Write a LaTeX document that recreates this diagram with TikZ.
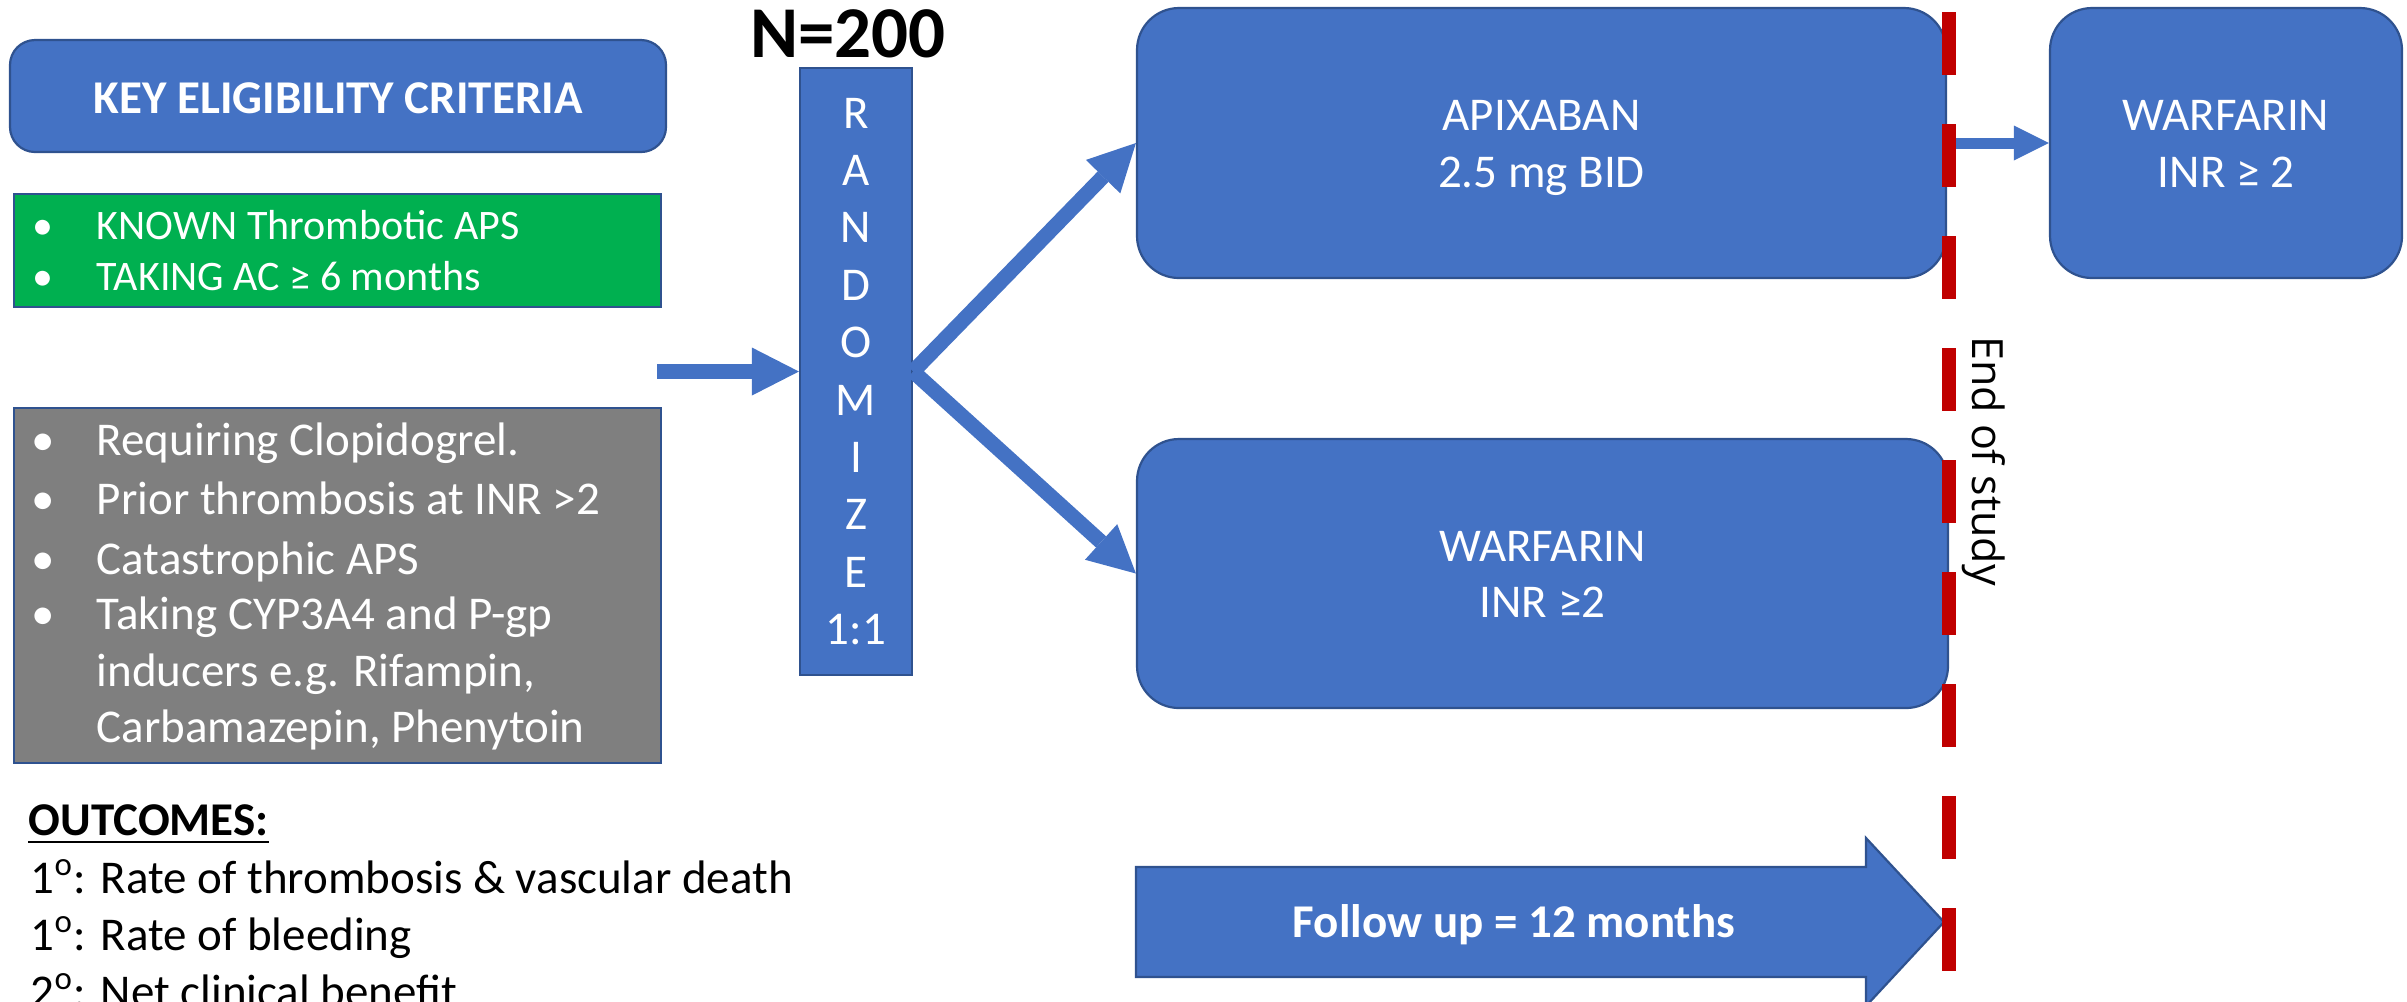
\documentclass[tikz,border=0pt]{standalone}
\usepackage{fontspec}
\setmainfont{Carlito}
\newfontfamily\eosfont{Open Sans}
\usetikzlibrary{arrows.meta}
\definecolor{pblue}{HTML}{4472C4}
\definecolor{pedge}{HTML}{2F528F}
\definecolor{pgreen}{HTML}{00B050}
\definecolor{pgray}{HTML}{7F7F7F}
\definecolor{pred}{HTML}{C00000}
\begin{document}
\begin{tikzpicture}[x=0.25pt,y=-0.25pt,
  box/.style={rectangle, draw=pedge, line width=0.55pt, inner sep=0pt},
  rbox/.style={box, fill=pblue, rounded corners=10.5pt},
  wtext/.style={text=white, inner sep=0pt, font=\fontsize{11.75pt}{14.35pt}\selectfont},
  gtext/.style={text=white, inner sep=0pt, font=\fontsize{10.5pt}{12.75pt}\selectfont},
  btext/.style={text=black, inner sep=0pt, font=\fontsize{11.75pt}{14.35pt}\selectfont},
  conn/.style={draw=pblue, line width=3.75pt, -{Triangle[length=11.75pt, width=12pt, line width=0pt]}},
  sconn/.style={draw=pblue, line width=2.75pt, -{Triangle[length=8.75pt, width=8.75pt, line width=0pt]}},
  eosline/.style={draw=pred, line width=3.5pt, dash pattern=on 15.75pt off 12.25pt}
]
\useasboundingbox (0,0) rectangle (2407,1001);

% left column
\node[box, fill=pblue, rounded corners=6.25pt, minimum width=164pt, minimum height=28pt] (key) at (338,96) {};
\node[wtext, font=\bfseries\fontsize{11.75pt}{14.35pt}\selectfont, anchor=base] (keyt) at (338,113) {KEY ELIGIBILITY CRITERIA};

\node[box, fill=pgreen, minimum width=161.75pt, minimum height=28.25pt] (inc) at (337.5,250.5) {};
\node[gtext, anchor=base] (incb1) at (43,239) {•};
\node[gtext, anchor=base west] (inc1) at (96,239) {KNOWN Thrombotic APS};
\node[gtext, anchor=base] (incb2) at (43,290) {•};
\node[gtext, anchor=base west] (inc2) at (96,290) {TAKING AC ≥ 6 months};

\node[box, fill=pgray, minimum width=161.75pt, minimum height=88.75pt] (exc) at (337.5,585.5) {};
\node[wtext, anchor=base] (excb1) at (43,455) {•};
\node[wtext, anchor=base west] (exc1) at (96,455) {Requiring Clopidogrel.};
\node[wtext, anchor=base] (excb2) at (43,514.6) {•};
\node[wtext, anchor=base west] (exc2) at (96,514.6) {Prior thrombosis at INR >2};
\node[wtext, anchor=base] (excb3) at (43,574) {•};
\node[wtext, anchor=base west] (exc3) at (96,574) {Catastrophic APS};
\node[wtext, anchor=base] (excb4) at (43,629.5) {•};
\node[wtext, anchor=base west] (exc4) at (96,629.5) {Taking CYP3A4 and P-gp};
\node[wtext, anchor=base west] (exc5) at (96,686.9) {inducers e.g. Rifampin,};
\node[wtext, anchor=base west] (exc6) at (96,742.4) {Carbamazepin, Phenytoin};

\node[btext, font=\bfseries\fontsize{11.75pt}{14.35pt}\selectfont, anchor=base west] (outc) at (28,835) {OUTCOMES:};
\draw[line width=0.7pt] ([yshift=-1.75pt]outc.base west) -- ([yshift=-1.75pt]outc.base east);
\node[btext, anchor=base west] (o1) at (30,893) {1\textsuperscript{o}: Rate of thrombosis \& vascular death};
\node[btext, anchor=base west] (o2) at (30,950) {1\textsuperscript{o}: Rate of bleeding};
\node[btext, anchor=base west] (o3) at (30,1007) {2\textsuperscript{o}: Net clinical benefit};

% randomize
\node[btext, font=\bfseries\fontsize{18.25pt}{22pt}\selectfont, anchor=base] (n200) at (848,57) {N=200};
\node[box, fill=pblue, minimum width=28pt, minimum height=151.75pt] (rand) at (856,371.5) {};
\foreach \t [count=\i from 0] in {R,A,N,D,O,M,I,Z,E,1:1}
  \node[wtext, anchor=base] (r\i) at (856,{128+57.4*\i}) {\t};

% arms
\node[rbox, minimum width=202.25pt, minimum height=67.5pt] (apix) at (1541.5,143) {};
\node[wtext, anchor=base] (apixt1) at (1541.5,130) {APIXABAN};
\node[wtext, anchor=base] (apixt2) at (1541.5,187) {2.5 mg BID};

\node[rbox, minimum width=202.75pt, minimum height=67.25pt] (warf) at (1542.5,573.5) {};
\node[wtext, anchor=base] (warft1) at (1542.5,561) {WARFARIN};
\node[wtext, anchor=base] (warft2) at (1542.5,617) {INR ≥2};

\node[rbox, minimum width=88pt, minimum height=67.5pt] (warfb) at (2226,143) {};
\node[wtext, anchor=base] (warfbt1) at (2226,130) {WARFARIN};
\node[wtext, anchor=base] (warfbt2) at (2226,187) {INR ≥ 2};

% follow up block arrow
\coordinate (f1) at (1136,867);
\coordinate (f2) at (1866,867);
\coordinate (f3) at (1866,838);
\coordinate (f4) at (1944,922);
\coordinate (f5) at (1866,1006);
\coordinate (f6) at (1866,977);
\coordinate (f7) at (1136,977);
\draw[draw=pedge, fill=pblue, line width=0.55pt] (f1) -- (f2) -- (f3) -- (f4) -- (f5) -- (f6) -- (f7) -- cycle;
\node[wtext, font=\bfseries\fontsize{11.75pt}{14.35pt}\selectfont, anchor=base] (fu) at (1514,937) {Follow up = 12 months};

% connectors
\coordinate (inA) at (657,371.5);
\draw[conn] (inA) -- (rand.west);
\draw[conn] (rand.east) -- (apix.west);
\draw[conn] (rand.east) -- (warf.west);
\draw[sconn] (apix.east) -- (warfb.west);

% end of study
\coordinate (eosT) at (1949,12);
\coordinate (eosB) at (1949,971);
\draw[eosline] (eosT) -- (eosB);
\node[rotate=-90, anchor=base, inner sep=0pt, font=\eosfont\fontsize{10.75pt}{13pt}\selectfont] (eos) at (1972,461) {End of study};
\end{tikzpicture}
\end{document}
